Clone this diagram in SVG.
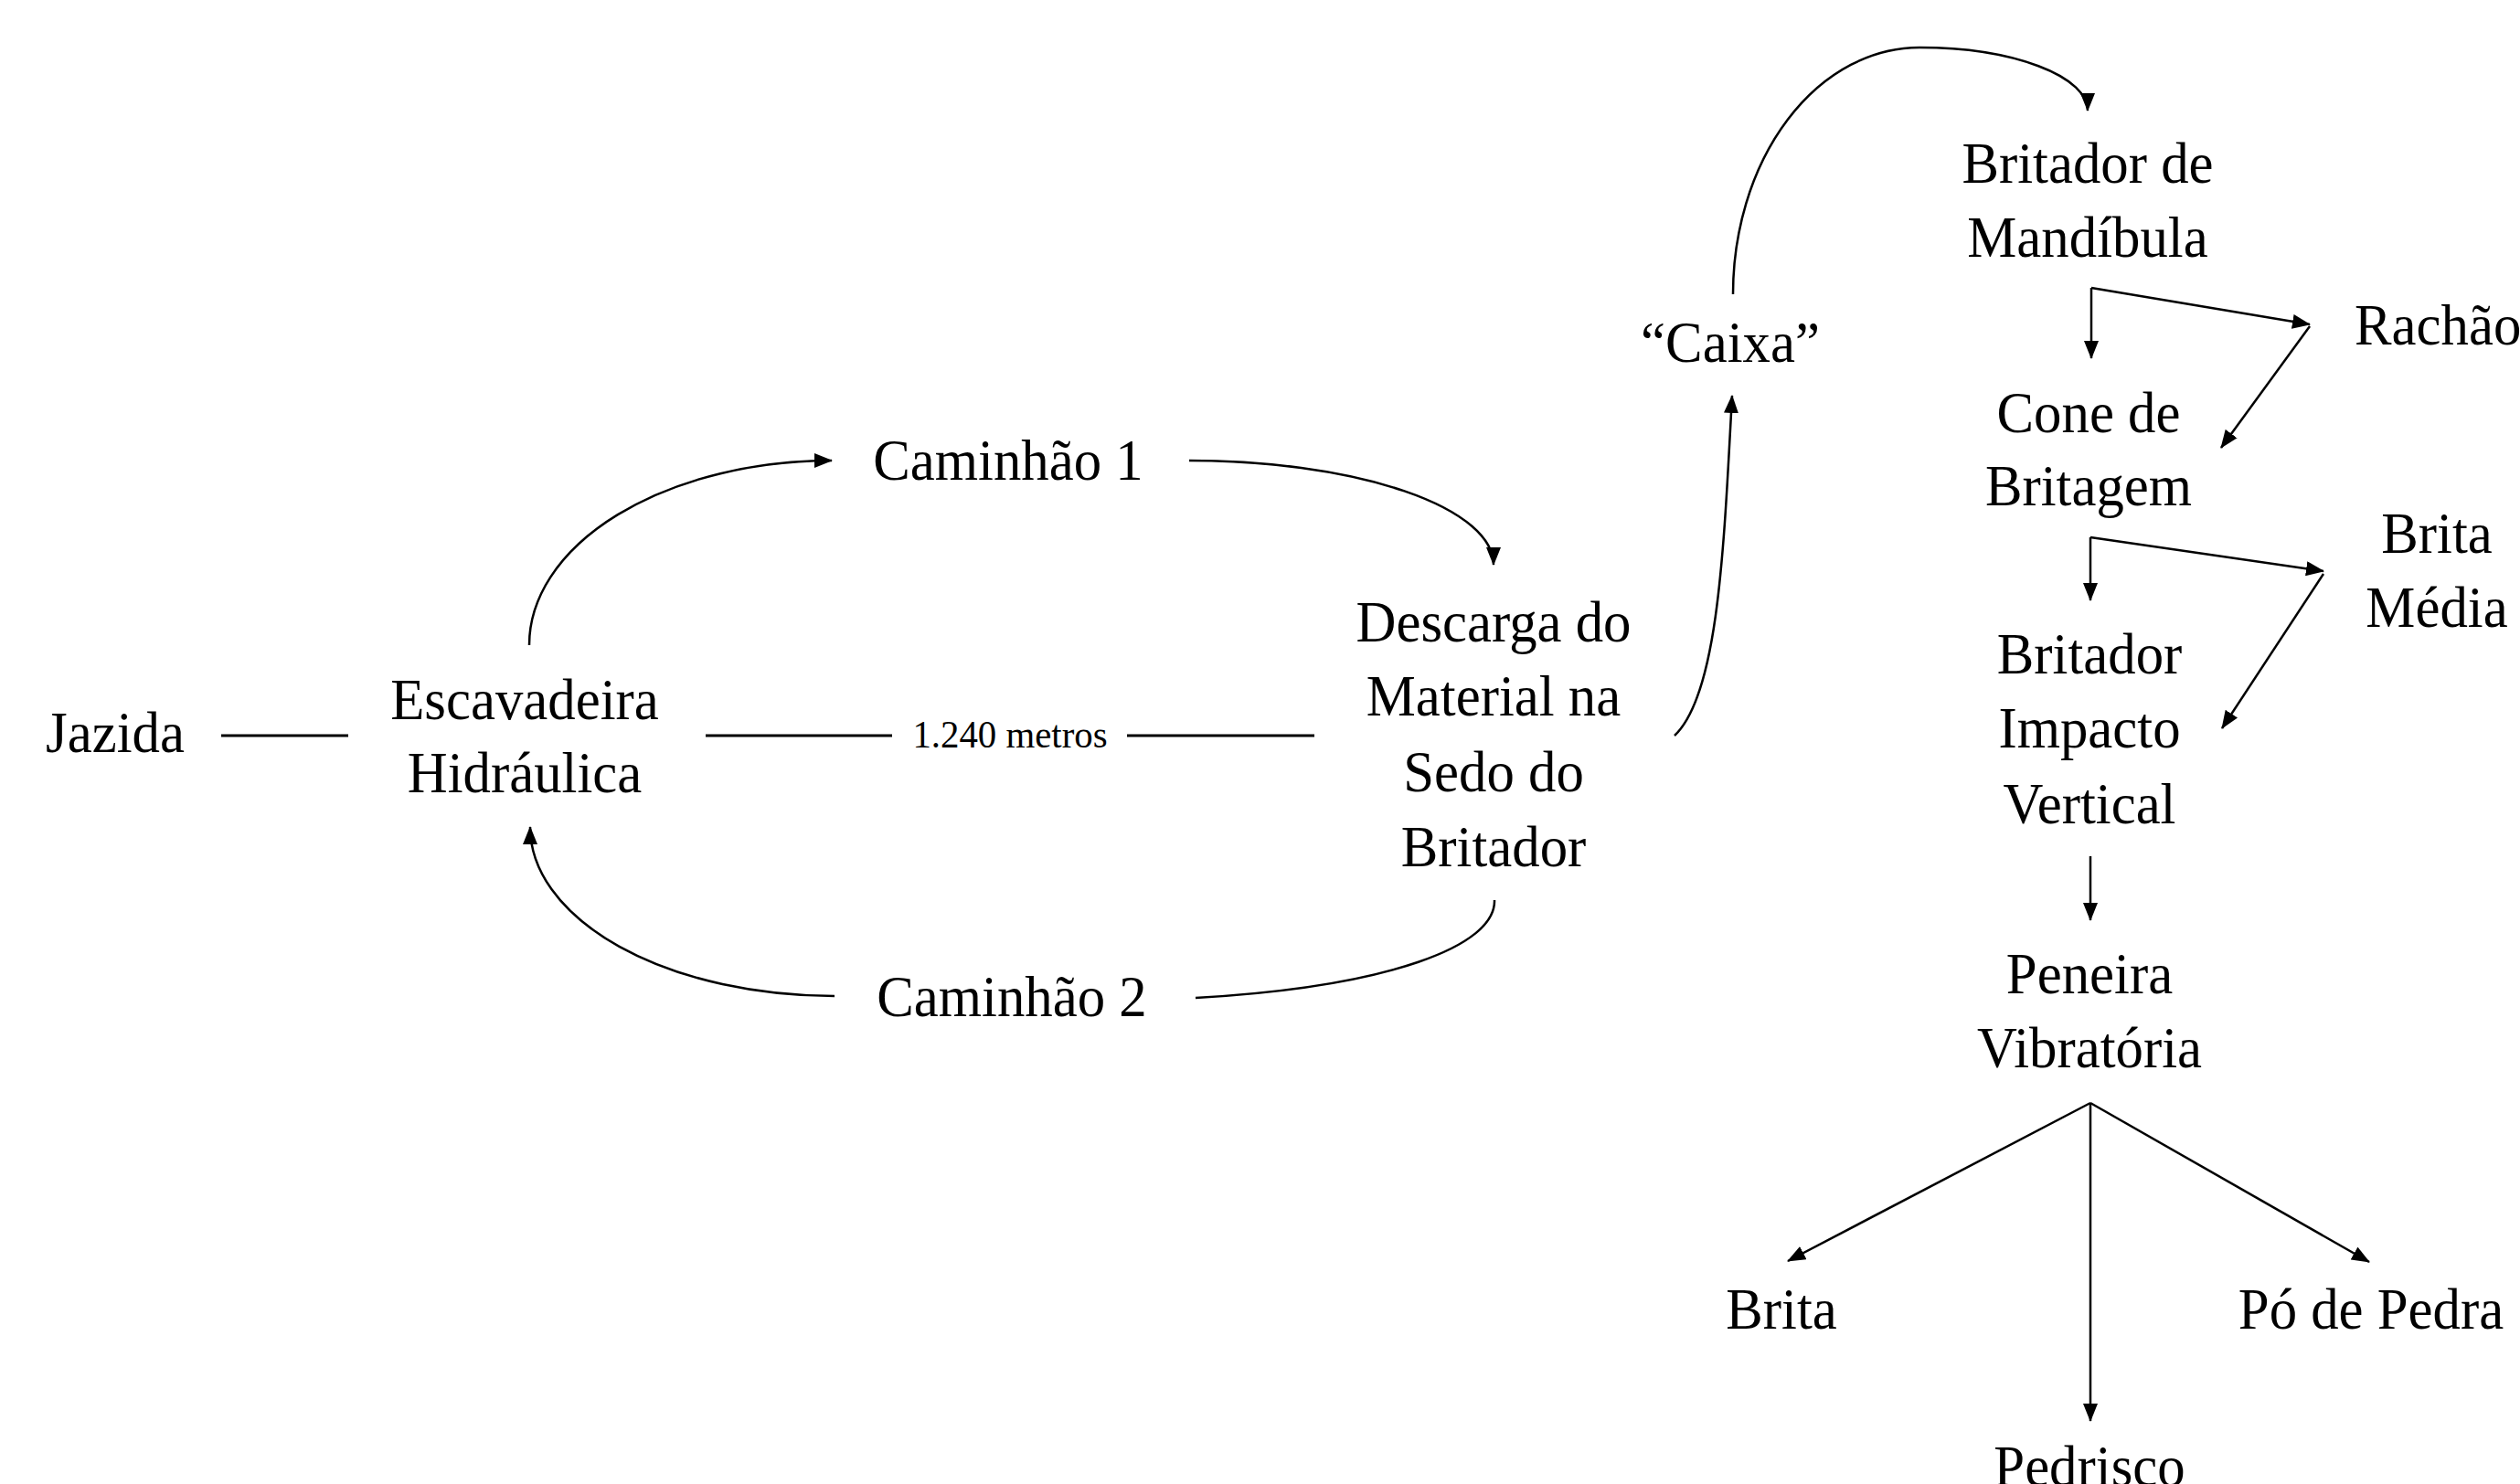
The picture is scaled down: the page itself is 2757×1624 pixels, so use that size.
<svg xmlns="http://www.w3.org/2000/svg" width="2757" height="1624" viewBox="0 0 2757 1624">
<style>
text{font-family:"Liberation Serif","Times New Roman",serif;font-size:64px;fill:#000;text-anchor:middle}
.small{font-size:43px}
.ln{fill:none;stroke:#000;stroke-width:3}
.arc{fill:none;stroke:#000;stroke-width:2.5}
</style>
<defs>
<marker id="ah" viewBox="0 0 20 16" refX="19" refY="8" markerWidth="20" markerHeight="16" markerUnits="userSpaceOnUse" orient="auto">
<path d="M0,0 L20,8 L0,16 z" fill="#000"/>
</marker>
</defs>
<rect width="2757" height="1624" fill="#fff"/>

<g id="connectors">
<line class="ln" x1="242" y1="805" x2="381" y2="805"/>
<line class="ln" x1="772" y1="805" x2="976" y2="805"/>
<line class="ln" x1="1233" y1="805" x2="1438" y2="805"/>
<path class="arc" d="M579,706 A331,202 0 0 1 910,504" marker-end="url(#ah)"/>
<path class="arc" d="M1301,504 A333,114 0 0 1 1634,618" marker-end="url(#ah)"/>
<path class="arc" d="M1635,985 C1637,1035 1520,1080 1308,1092"/>
<path class="arc" d="M913,1090 A333,185 0 0 1 580,905" marker-end="url(#ah)"/>
<path class="arc" d="M1832,805 C1880,760 1886,600 1895,433" marker-end="url(#ah)"/>
<path class="arc" d="M1896,322 A204,270 0 0 1 2100,52 A184,69 0 0 1 2284,121" marker-end="url(#ah)"/>
<line class="arc" x1="2288" y1="315" x2="2288" y2="392" marker-end="url(#ah)"/>
<line class="arc" x1="2288" y1="315" x2="2527" y2="355" marker-end="url(#ah)"/>
<line class="arc" x1="2527" y1="357" x2="2430" y2="490" marker-end="url(#ah)"/>
<line class="arc" x1="2287" y1="588" x2="2287" y2="657" marker-end="url(#ah)"/>
<line class="arc" x1="2287" y1="588" x2="2542" y2="625" marker-end="url(#ah)"/>
<line class="arc" x1="2542" y1="628" x2="2431" y2="797" marker-end="url(#ah)"/>
<line class="arc" x1="2287" y1="937" x2="2287" y2="1007" marker-end="url(#ah)"/>
<line class="arc" x1="2287" y1="1207" x2="2287" y2="1555" marker-end="url(#ah)"/>
<line class="arc" x1="2287" y1="1207" x2="1956" y2="1380" marker-end="url(#ah)"/>
<line class="arc" x1="2287" y1="1207" x2="2592" y2="1381" marker-end="url(#ah)"/>
</g>

<g id="jazida"><text transform="translate(126,823) scale(0.95,1)">Jazida</text></g>
<g id="escavadeira"><text transform="translate(574,787) scale(0.95,1)"><tspan x="0" y="0">Escavadeira</tspan><tspan x="0" y="80">Hidráulica</tspan></text></g>
<g id="distancia"><text class="small" transform="translate(1105,818) scale(0.95,1)">1.240 metros</text></g>
<g id="caminhao1"><text transform="translate(1103,525) scale(0.95,1)">Caminhão 1</text></g>
<g id="caminhao2"><text transform="translate(1107,1112) scale(0.95,1)">Caminhão 2</text></g>
<g id="descarga"><text transform="translate(1634,702) scale(0.95,1)"><tspan x="0" y="0">Descarga do</tspan><tspan x="0" y="81">Material na</tspan><tspan x="0" y="164">Sedo do</tspan><tspan x="0" y="246">Britador</tspan></text></g>
<g id="caixa"><text transform="translate(1893,396) scale(0.95,1)">“Caixa”</text></g>
<g id="britador-mandibula"><text transform="translate(2284,200) scale(0.95,1)"><tspan x="0" y="0">Britador de</tspan><tspan x="0" y="81">Mandíbula</tspan></text></g>
<g id="rachao"><text transform="translate(2576,377) scale(0.95,1)" style="text-anchor:start">Rachão</text></g>
<g id="cone"><text transform="translate(2285,473) scale(0.95,1)"><tspan x="0" y="0">Cone de</tspan><tspan x="0" y="80">Britagem</tspan></text></g>
<g id="brita-media"><text transform="translate(2666,605) scale(0.95,1)"><tspan x="0" y="0">Brita</tspan><tspan x="0" y="81">Média</tspan></text></g>
<g id="britador-impacto"><text transform="translate(2286,737) scale(0.95,1)"><tspan x="0" y="0">Britador</tspan><tspan x="0" y="81">Impacto</tspan><tspan x="0" y="164">Vertical</tspan></text></g>
<g id="peneira"><text transform="translate(2286,1087) scale(0.95,1)"><tspan x="0" y="0">Peneira</tspan><tspan x="0" y="81">Vibratória</tspan></text></g>
<g id="brita"><text transform="translate(1949,1454) scale(0.95,1)">Brita</text></g>
<g id="po-de-pedra"><text transform="translate(2594,1454) scale(0.95,1)">Pó de Pedra</text></g>
<g id="pedrisco"><text transform="translate(2286,1626) scale(0.95,1)">Pedrisco</text></g>
</svg>
